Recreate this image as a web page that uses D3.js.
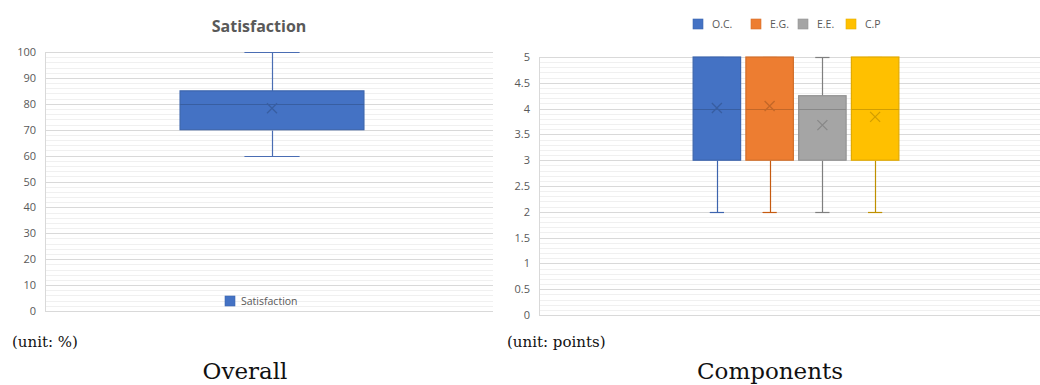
<!DOCTYPE html>
<html>
<head>
<meta charset="utf-8">
<script src="https://cdn.jsdelivr.net/npm/d3@7"></script>
<style>
  html, body { margin: 0; padding: 0; background: #fff; }
  svg { display: block; }
  .tick-label { font-family: "Open Sans", sans-serif; font-size: 11px; fill: #595959; }
  .legend-label { font-family: "Open Sans", sans-serif; font-size: 10.5px; fill: #595959; }
  .caption { font-family: "DejaVu Serif", serif; fill: #111; }
</style>
</head>
<body>
<svg id="chart" width="1040" height="385"></svg>
<script>
// ---- Overall satisfaction (%) ----
const overallName = ["Satisfaction"];
const overallMin = [60];
const overallQ1 = [70];
const overallMedian = [80];
const overallQ3 = [85];
const overallMax = [100];
const overallMean = [78.3];
const overallTicks = [0, 10, 20, 30, 40, 50, 60, 70, 80, 90, 100];

// ---- Components (points) ----
const components = ["O.C.", "E.G.", "E.E.", "C.P"];
const compMin = [2, 2, 2, 2];
const compQ1 = [3, 3, 3, 3];
const compMedian = [4, 4, 4, 4];
const compQ3 = [5, 5, 4.25, 5];
const compMax = [5, 5, 5, 5];
const compMean = [4.01, 4.05, 3.68, 3.84];
const compTicks = [0, 0.5, 1, 1.5, 2, 2.5, 3, 3.5, 4, 4.5, 5];

const fills = ["#4472c4", "#ed7d31", "#a5a5a5", "#ffc000"];
const whiskerColors = ["#3d64ae", "#c55a11", "#7f7f7f", "#bf9000"];

const svg = d3.select("#chart");

function drawGrid(g, y, x0, x1, majorStep, minorStep, domainMax) {
  const minors = d3.range(0, domainMax + minorStep / 2, minorStep)
    .filter(v => Math.abs(v / majorStep - Math.round(v / majorStep)) > 1e-6);
  g.append("g").selectAll("line").data(minors).join("line")
    .attr("x1", x0).attr("x2", x1)
    .attr("y1", d => Math.round(y(d)) + 0.5).attr("y2", d => Math.round(y(d)) + 0.5)
    .attr("stroke", "#f0f0f0").attr("stroke-width", 1);
}

function drawAxis(g, y, x0, x1, ticks, fmt) {
  const axis = d3.axisLeft(y).tickValues(ticks).tickSize(-(x1 - x0)).tickPadding(8).tickFormat(fmt);
  const ag = g.append("g").attr("transform", `translate(${x0},0)`).call(axis);
  ag.select(".domain").attr("stroke", "#d9d9d9");
  ag.selectAll(".tick line").attr("stroke", "#d9d9d9");
  ag.selectAll(".tick text").attr("class", "tick-label").attr("x", -9);
  ag.selectAll(".tick").attr("transform", d => `translate(0,${Math.round(y(d)) + 0.5})`);
}

function drawBox(g, cx, w, y, st, fill, wcol) {
  const base = d3.color(fill);
  const border = base.darker(0.35).formatHex();
  const dark = base.darker(0.55).formatHex();
  const capW = w * 0.3;
  const px = v => Math.round(y(v)) + 0.5;
  const xc = Math.round(cx) + 0.5;
  // whiskers
  g.append("line").attr("x1", xc).attr("x2", xc).attr("y1", px(st.max)).attr("y2", px(st.q3))
    .attr("stroke", wcol).attr("stroke-width", 1.2);
  g.append("line").attr("x1", xc).attr("x2", xc).attr("y1", px(st.q1)).attr("y2", px(st.min))
    .attr("stroke", wcol).attr("stroke-width", 1.2);
  [st.max, st.min].forEach(v => {
    g.append("line").attr("x1", cx - capW / 2).attr("x2", cx + capW / 2)
      .attr("y1", px(v)).attr("y2", px(v)).attr("stroke", wcol).attr("stroke-width", 1.2);
  });
  // box
  g.append("rect").attr("x", cx - w / 2).attr("y", y(st.q3)).attr("width", w)
    .attr("height", y(st.q1) - y(st.q3)).attr("fill", fill)
    .attr("stroke", border).attr("stroke-width", 1.2);
  // median
  g.append("line").attr("x1", cx - w / 2).attr("x2", cx + w / 2)
    .attr("y1", px(st.median)).attr("y2", px(st.median)).attr("stroke", dark).attr("stroke-width", 1.2);
  // mean marker
  const s = 5, my = y(st.mean);
  g.append("path")
    .attr("d", `M${cx - s},${my - s}L${cx + s},${my + s}M${cx - s},${my + s}L${cx + s},${my - s}`)
    .attr("stroke", dark).attr("stroke-width", 1.3).attr("fill", "none");
}

// ================= Overall panel =================
{
  const x0 = 45, x1 = 493;
  const y = d3.scaleLinear().domain([0, 100]).range([311, 52]);
  const x = d3.scaleBand().domain(overallName).range([51, 493]);
  const g = svg.append("g");

  g.append("text").attr("x", 259).attr("y", 32).attr("text-anchor", "middle")
    .attr("font-family", "'Open Sans', sans-serif").attr("font-weight", "bold")
    .attr("font-size", 16).attr("fill", "#595959").text("Satisfaction");

  drawGrid(g, y, x0, x1, 10, 2, 100);
  drawAxis(g, y, x0, x1, overallTicks, d3.format("d"));

  overallName.forEach((name, i) => {
    const cx = x(name) + x.bandwidth() / 2;
    drawBox(g, cx, x.bandwidth() * 0.416, y, {
      min: overallMin[i], q1: overallQ1[i], median: overallMedian[i],
      q3: overallQ3[i], max: overallMax[i], mean: overallMean[i]
    }, fills[0], "#4a6db3");
  });

  // legend
  const lg = g.append("g").attr("transform", "translate(225,296)");
  lg.append("rect").attr("width", 10).attr("height", 10).attr("fill", fills[0])
    .attr("stroke", d3.color(fills[0]).darker(0.3)).attr("stroke-width", 0.6);
  lg.append("text").attr("class", "legend-label").attr("x", 16).attr("y", 9).text(overallName[0]);

  g.append("text").attr("class", "caption").attr("x", 12).attr("y", 347)
    .attr("font-size", 15).text("(unit: %)");
  g.append("text").attr("class", "caption").attr("x", 245).attr("y", 379)
    .attr("text-anchor", "middle").attr("font-size", 23).text("Overall");
}

// ================= Components panel =================
{
  const x0 = 539, x1 = 1053;
  const y = d3.scaleLinear().domain([0, 5]).range([315, 57]);
  const x = d3.scaleBand().domain(components).range([690.5, 901.5]);
  const g = svg.append("g");

  drawGrid(g, y, x0, x1, 0.5, 0.1, 5);
  drawAxis(g, y, x0, x1, compTicks, d => d3.format("~g")(d));

  components.forEach((name, i) => {
    const cx = x(name) + x.bandwidth() / 2;
    drawBox(g, cx, x.bandwidth() * 0.9, y, {
      min: compMin[i], q1: compQ1[i], median: compMedian[i],
      q3: compQ3[i], max: compMax[i], mean: compMean[i]
    }, fills[i], whiskerColors[i]);
  });

  // legend
  const legendX = [693, 751, 798, 846];
  const lg = g.append("g").attr("transform", "translate(0,19)");
  components.forEach((name, i) => {
    const item = lg.append("g").attr("transform", `translate(${legendX[i]},0)`);
    item.append("rect").attr("width", 10).attr("height", 10).attr("fill", fills[i])
      .attr("stroke", d3.color(fills[i]).darker(0.3)).attr("stroke-width", 0.6);
    item.append("text").attr("class", "legend-label").attr("x", 19).attr("y", 9).text(name);
  });

  g.append("text").attr("class", "caption").attr("x", 507).attr("y", 347)
    .attr("font-size", 15).text("(unit: points)");
  g.append("text").attr("class", "caption").attr("x", 770).attr("y", 379)
    .attr("text-anchor", "middle").attr("font-size", 23).text("Components");
}
</script>
</body>
</html>
